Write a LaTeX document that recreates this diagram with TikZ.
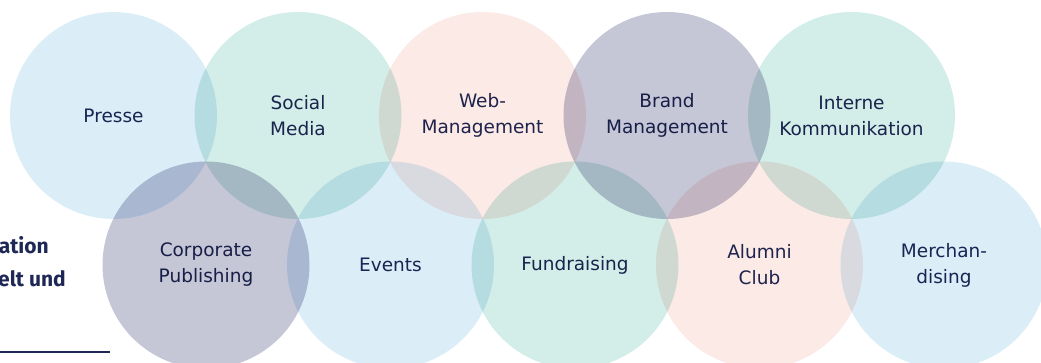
\documentclass[tikz,border=0pt]{standalone}
\usepackage{fontspec}
\setmainfont{DejaVu Sans}
\newfontfamily\sidefont{Fira Sans}
\usepackage{tikz}
\usetikzlibrary{positioning}
\usepackage{xcolor}

\definecolor{skyblue}{RGB}{219,238,248}
\definecolor{mint}{RGB}{211,237,232}
\definecolor{blush}{RGB}{252,234,230}
\definecolor{heather}{RGB}{197,198,214}
\definecolor{inkblue}{RGB}{30,39,85}

\begin{document}
\begin{tikzpicture}[x=1pt, y=1pt,
  every node/.style={align=center, text=inkblue},
  bubble/.style={circle, inner sep=0pt, minimum size=207pt, font=\fontsize{18.5}{26}\selectfont},
  sidetext/.style={anchor=base east, inner sep=0pt, font=\sidefont\fontsize{21}{26}\selectfont\bfseries}]
  \clip (0,0) rectangle (1041,363);
  \begin{scope}[blend mode=multiply]
    % upper row
    \node[bubble, fill=skyblue] (presse) at (113.5,247.5) {Presse};
    \node[bubble, fill=mint] (social) at (298,247.5) {Social\\Media};
    \node[bubble, fill=blush] (web) at (482.5,247.5) {Web-\\Management};
    \node[bubble, fill=heather] (brand) at (667,247.5) {Brand\\Management};
    \node[bubble, fill=mint] (intern) at (851.5,247.5) {Interne\\Kommunikation};
    % lower row
    \node[bubble, fill=heather] (corp) at (206,98) {Corporate\\Publishing};
    \node[bubble, fill=skyblue] (events) at (390.5,98) {Events};
    \node[bubble, fill=mint] (fund) at (575,98) {Fundraising};
    \node[bubble, fill=blush] (alumni) at (759.5,98) {Alumni\\Club};
    \node[bubble, fill=skyblue] (merch) at (944,98) {Merchan-\\dising};
  \end{scope}
  \node[sidetext] (sideone) at (49,109) {ation};
  \node[sidetext] (sidetwo) at (66,76) {elt und};
  \coordinate (rulestart) at (0,11);
  \coordinate (ruleend) at (110,11);
  \draw[inkblue, line width=1.3pt] (rulestart) -- (ruleend);
\end{tikzpicture}
\end{document}
